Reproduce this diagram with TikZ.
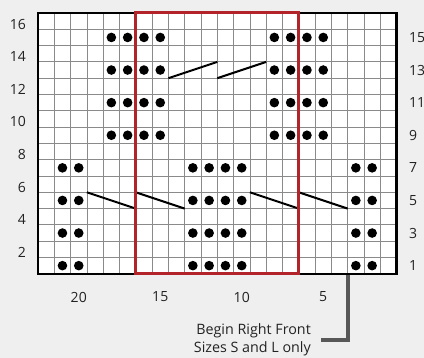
\documentclass[tikz,border=0pt]{standalone}
\usepackage{fontspec}
\setmainfont{Open Sans}
\definecolor{bg}{HTML}{EFEFEF}
\definecolor{gridgray}{HTML}{8A8A8A}
\definecolor{chartred}{HTML}{B3242A}
\definecolor{callout}{HTML}{585858}
\definecolor{labeltext}{HTML}{222222}
\begin{document}
\begin{tikzpicture}[x=1pt,y=-1pt,
  gridline/.style={draw=gridgray,line width=0.8pt},
  border/.style={draw=black,line width=2.4pt},
  redbox/.style={draw=chartred,line width=3pt},
  stitch/.style={fill=black},
  cable/.style={draw=black,line width=2pt},
  rowlbl/.style={font=\fontsize{14}{16}\selectfont,text=labeltext,inner sep=0pt},
  calloutline/.style={draw=callout,line width=4pt},
  callouttext/.style={font=\fontsize{14.3}{18}\selectfont,text=labeltext,align=right,inner sep=0pt}]
\def\cw{16.3}
\def\gl{38}
\def\gt{13}
\useasboundingbox[fill=bg] (0,0) rectangle (424,358);
% white grid interior
\fill[white] (\gl,\gt) rectangle ({\gl+22*\cw},{\gt+16*\cw});
% grid lines
\foreach \k in {1,...,21} \draw[gridline] ({\gl+\k*\cw},\gt) -- ({\gl+\k*\cw},{\gt+16*\cw});
\foreach \k in {1,...,15} \draw[gridline] (\gl,{\gt+\k*\cw}) -- ({\gl+22*\cw},{\gt+\k*\cw});
% outer border
\draw[border] (\gl,\gt) rectangle ({\gl+22*\cw},{\gt+16*\cw});
% dots upper rows
\foreach \r in {1,3,5,7} {
  \foreach \c in {4,5,6,7,14,15,16,17}
    \fill[stitch] ({\gl+(\c+0.5)*\cw},{\gt+(\r+0.5)*\cw}) circle (4.8);
}
% dots lower rows
\foreach \r in {9,11,13,15} {
  \foreach \c in {1,2,9,10,11,12,19,20}
    \fill[stitch] ({\gl+(\c+0.5)*\cw},{\gt+(\r+0.5)*\cw}) circle (4.8);
}
% cable lines
\draw[cable] ({\gl+8*\cw},{\gt+4*\cw}) -- ({\gl+11*\cw},{\gt+3*\cw});
\draw[cable] ({\gl+11*\cw},{\gt+4*\cw}) -- ({\gl+14*\cw},{\gt+3*\cw});
\draw[cable] ({\gl+3*\cw},{\gt+11*\cw}) -- ({\gl+6*\cw},{\gt+12*\cw});
\draw[cable] ({\gl+6*\cw},{\gt+11*\cw}) -- ({\gl+9*\cw},{\gt+12*\cw});
\draw[cable] ({\gl+13*\cw},{\gt+11*\cw}) -- ({\gl+16*\cw},{\gt+12*\cw});
\draw[cable] ({\gl+16*\cw},{\gt+11*\cw}) -- ({\gl+19*\cw},{\gt+12*\cw});
% red box
\draw[redbox] ({\gl+6*\cw},\gt) rectangle ({\gl+16*\cw},{\gt+16*\cw});
% left labels (even rows)
\foreach \n in {16,14,...,2}
  \node[rowlbl,anchor=east] (L\n) at (26,{\gt+(16-\n+0.5)*\cw+3}) {\n};
% right labels (odd rows)
\foreach \n in {15,13,...,1}
  \node[rowlbl,anchor=west] (R\n) at (409,{\gt+(16-\n+0.5)*\cw}) {\n};
% bottom labels
\foreach \n in {20,15,10,5}
  \node[rowlbl] (B\n) at ({\gl+(22-\n+0.5)*\cw},297) {\n};
% callout
\coordinate (cstart) at ({\gl+19*\cw},{\gt+16*\cw+1});
\coordinate (ccorner) at ({\gl+19*\cw},340);
\coordinate (cend) at (321,340);
\draw[calloutline] (cstart) -- (ccorner) -- (cend);
\node[callouttext,anchor=east] (note) at (311,340) {Begin Right Front\\Sizes S and L only};
\end{tikzpicture}
\end{document}
